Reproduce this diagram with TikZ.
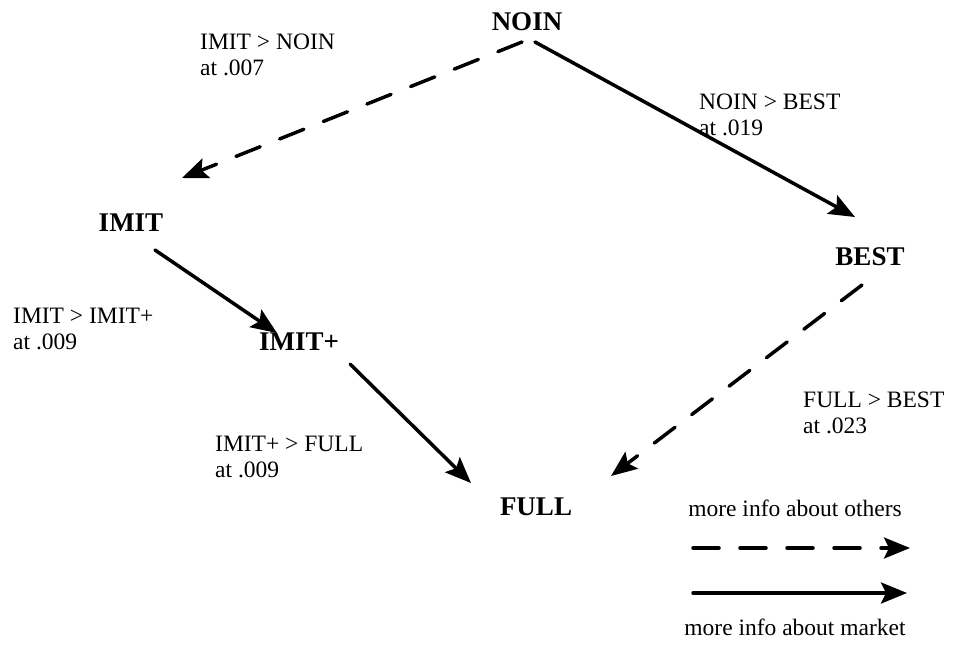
\documentclass[tikz,border=0pt]{standalone}
\usepackage{fontspec}
\setmainfont{Liberation Serif}
\usetikzlibrary{arrows.meta}

\begin{document}
\begin{tikzpicture}[x=1pt,y=-1pt,
    state/.style={font=\fontsize{27}{30}\selectfont\bfseries, inner sep=0pt},
    lbl/.style={font=\fontsize{23.5}{26}\selectfont, align=left, anchor=west, inner sep=0pt},
    leg/.style={font=\fontsize{23.5}{26}\selectfont, inner sep=0pt},
    move/.style={line width=3.5pt, line cap=round, -{Stealth[length=26pt,width=21pt,inset=5pt]}},
    other/.style={move, dash pattern=on 26pt off 21pt}]

  \useasboundingbox (0,0) rectangle (953,646);

  % the five regimes
  \node[state] (noin)  at (527,22)  {NOIN};
  \node[state] (imit)  at (131,223) {IMIT};
  \node[state] (best)  at (870,257) {BEST};
  \node[state] (imitp) at (299,342) {IMIT+};
  \node[state] (full)  at (536,507) {FULL};

  % switches
  \draw[other] ([shift={(-5,20)}]noin.center) -- ([shift={(51,-45)}]imit.center);
  \draw[move]  ([shift={(8,20)}]noin.center)  -- ([shift={(-15,-40)}]best.center);
  \draw[move]  ([shift={(24,27)}]imit.center) -- ([shift={(-22,-9)}]imitp.center);
  \draw[other] ([shift={(-8,28)}]best.center) -- ([shift={(75,-31)}]full.center);
  \draw[move]  ([shift={(51,22)}]imitp.center) -- ([shift={(-65,-24)}]full.center);

  \node[lbl] (l1) at (200,55)  {IMIT > NOIN\\at .007};
  \node[lbl] (l2) at (699,115) {NOIN > BEST\\at .019};
  \node[lbl] (l3) at (13,329)  {IMIT > IMIT+\\at .009};
  \node[lbl] (l4) at (215,457) {IMIT+ > FULL\\at .009};
  \node[lbl] (l5) at (803,413) {FULL > BEST\\at .023};

  % legend
  \node[leg] (others) at (795,508) {more info about others};
  \node[leg] (market) at (795,627) {more info about market};
  \coordinate (d1) at (693,548);
  \coordinate (d2) at (910,548);
  \coordinate (s1) at (693,593);
  \coordinate (s2) at (907,593);
  \draw[other] (d1) -- (d2);
  \draw[move]  (s1) -- (s2);

\end{tikzpicture}
\end{document}
